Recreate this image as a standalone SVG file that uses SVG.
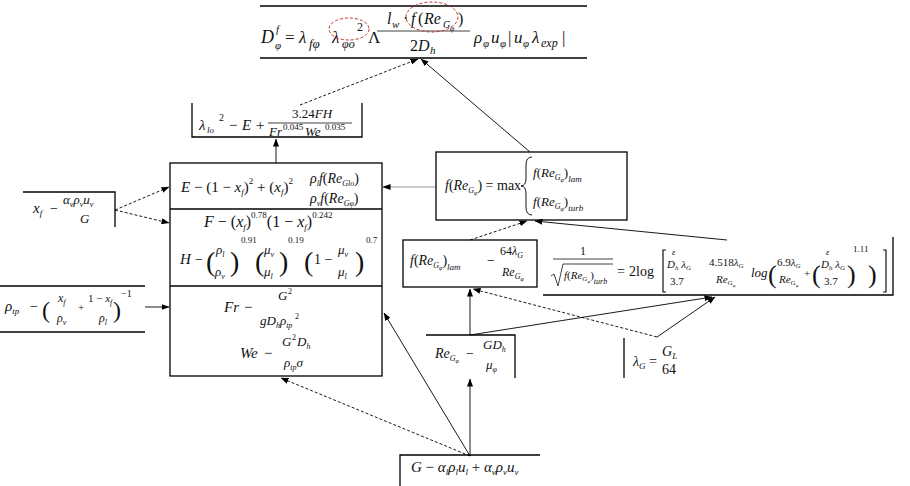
<svg xmlns="http://www.w3.org/2000/svg" width="910" height="486" viewBox="0 0 910 486">
<style>
.t{font-family:"Liberation Serif","DejaVu Serif",serif;font-style:italic;fill:#111}
.n{font-style:normal}
.s{font-size:9px}
.sup{font-size:9px;font-style:normal}
.big{font-style:normal}
.b{stroke:#000;stroke-width:1.3;fill:none}
.bar{stroke:#111;stroke-width:0.8;fill:none}
.c{stroke:#000;stroke-width:0.9;fill:none;marker-end:url(#ah)}
.d{stroke-dasharray:3 2}
.g{stroke:#8a8a8a}
.red{stroke:#c0302a;stroke-width:1;fill:none;stroke-dasharray:3 2}
</style>
<defs>
<marker id="ah" markerWidth="8" markerHeight="6" refX="7.5" refY="3" orient="auto" markerUnits="userSpaceOnUse"><path d="M0,0 L8,3 L0,6 z" fill="#000"/></marker>
</defs>
<rect width="910" height="486" fill="#fff"/>

<g id="connectors">
<line class="c d" x1="300" y1="105" x2="418" y2="59"/>
<line class="c" x1="530" y1="152" x2="421" y2="59"/>
<line class="c" x1="276" y1="163" x2="276" y2="139"/>
<line class="c d" x1="115" y1="210" x2="169" y2="187"/>
<line class="c d" x1="115" y1="210" x2="169" y2="223"/>
<line class="c g" x1="436" y1="187" x2="383" y2="187"/>
<line class="c" x1="145" y1="307" x2="169" y2="307"/>
<line class="c d" x1="470" y1="240" x2="527" y2="221"/>
<line class="c" x1="727" y1="240" x2="535" y2="221"/>
<line class="c" x1="470" y1="335" x2="470" y2="289"/>
<line class="c" x1="470" y1="335" x2="712" y2="297"/>
<line class="c d" x1="657" y1="337" x2="473" y2="289"/>
<line class="c" x1="657" y1="337" x2="715" y2="297"/>
<line class="c d" x1="470" y1="456" x2="281" y2="378"/>
<line class="c" x1="470" y1="456" x2="384" y2="313"/>
<line class="c" x1="470" y1="456" x2="470" y2="379"/>
</g>

<g font-size="14">
<g id="drag">
<line class="b" x1="260" y1="6" x2="587" y2="6"/>
<line class="b" x1="260" y1="58" x2="587" y2="58"/>
<text class="t" x="261" y="43" font-size="18">D</text>
<text class="t" x="276" y="33" font-size="11">f</text>
<text class="t" x="275" y="49" font-size="11">φ</text>
<text class="t n" x="285" y="43" font-size="17">=</text>
<text class="t" x="299" y="43" font-size="17">λ</text>
<text class="t" x="309" y="48" font-size="13">fφ</text>
<text class="t" x="332" y="43" font-size="17">λ</text>
<text class="t" x="342" y="48" font-size="12">φo</text>
<text class="t n" x="357" y="31" font-size="12">2</text>
<text class="t n" x="368" y="43" font-size="17">Λ</text>
<text class="t" x="387" y="24" font-size="16">l</text>
<text class="t" x="392" y="28" font-size="11">w</text>
<text class="t n" x="403" y="24" font-size="16">·</text>
<text class="t" x="411" y="24" font-size="16">f</text>
<text class="t n" x="418" y="24" font-size="16">(</text>
<text class="t" x="424" y="24" font-size="16">Re</text>
<text class="t" x="443" y="28" font-size="10">G</text>
<text class="t" x="450" y="31" font-size="8">φ</text>
<text class="t n" x="458" y="24" font-size="16">)</text>
<line class="bar" x1="377" y1="31" x2="470" y2="31"/>
<text class="t n" x="410" y="51" font-size="16">2</text>
<text class="t" x="418" y="51" font-size="16">D</text>
<text class="t" x="430" y="54" font-size="11">h</text>
<text class="t" x="474" y="43" font-size="17">ρ</text>
<text class="t" x="483" y="47" font-size="11">φ</text>
<text class="t" x="491" y="43" font-size="17">u</text>
<text class="t" x="500" y="47" font-size="11">φ</text>
<text class="t n" x="508" y="43" font-size="17">|</text>
<text class="t" x="514" y="43" font-size="17">u</text>
<text class="t" x="523" y="47" font-size="11">φ</text>
<text class="t" x="532" y="43" font-size="17">λ</text>
<text class="t" x="541" y="47" font-size="12">exp</text>
<text class="t n" x="562" y="43" font-size="17">|</text>
<ellipse class="red" cx="349" cy="29" rx="20" ry="11"/>
<ellipse class="red" cx="432" cy="17" rx="26" ry="15"/>
</g>

<g id="lambda-lo">
<path class="b" d="M192,103 V137 H362 V103"/>
<text class="t" x="199" y="130" font-size="15">λ</text>
<text class="t" x="207" y="133" font-size="9">lo</text>
<text class="t n" x="219" y="121" font-size="10">2</text>
<text class="t n" x="229" y="130" font-size="15">−</text>
<text class="t" x="242" y="130" font-size="15">E</text>
<text class="t n" x="256" y="130" font-size="15">+</text>
<text class="t" x="292" y="118" font-size="13"><tspan class="n">3.24</tspan>FH</text>
<line class="bar" x1="268" y1="123" x2="352" y2="123"/>
<text class="t" x="269" y="136" font-size="13">Fr</text>
<text class="t n" x="283" y="130" font-size="9">0.045</text>
<text class="t" x="305" y="136" font-size="13">We</text>
<text class="t n" x="325" y="130" font-size="9">0.035</text>
</g>

<g id="xf">
<path class="b" d="M23,192 H115 V227"/>
<text class="t" x="33" y="213" font-size="15">x<tspan class="s" dy="3">f</tspan></text>
<text class="t n" x="50" y="213">−</text>
<text class="t" x="63" y="204" font-size="13">α<tspan font-size="8" dy="3">v</tspan><tspan dy="-3">ρ</tspan><tspan font-size="8" dy="3">v</tspan><tspan dy="-3">u</tspan><tspan font-size="8" dy="3">v</tspan></text>
<text class="t" x="80" y="223" font-size="13">G</text>
</g>

<g id="rho-tp">
<line class="b" x1="0" y1="286" x2="145" y2="286"/>
<line class="b" x1="0" y1="332" x2="145" y2="332"/>
<text class="t" x="5" y="311" font-size="15">ρ<tspan class="s" dy="3">tp</tspan></text>
<text class="t n" x="30" y="311">−</text>
<text class="t big" x="42" y="318" font-size="24">(</text>
<text class="t" x="58" y="302" font-size="12">x<tspan font-size="8" dy="3">f</tspan></text>
<text class="t" x="57" y="322" font-size="12">ρ<tspan font-size="8" dy="3">v</tspan></text>
<text class="t n" x="78" y="311" font-size="11">+</text>
<text class="t" x="88" y="302" font-size="11"><tspan class="n">1 − </tspan>x<tspan font-size="8" dy="3">f</tspan></text>
<text class="t" x="99" y="322" font-size="12">ρ<tspan font-size="8" dy="3">l</tspan></text>
<text class="t big" x="113" y="318" font-size="24">)</text>
<text class="t n" x="121" y="297" font-size="10">−1</text>
</g>

<g id="main">
<rect class="b" x="170" y="163" width="212" height="213"/>
<line class="b" x1="170" y1="209" x2="382" y2="209"/>
<line class="b" x1="170" y1="286" x2="382" y2="286"/>
<text class="t" x="181" y="192" font-size="15">E<tspan class="n"> − (1 − </tspan>x<tspan class="s" dy="3">f</tspan><tspan class="n" dy="-3">)</tspan><tspan class="sup" dy="-8">2</tspan><tspan class="n" dy="8"> + (</tspan>x<tspan class="s" dy="3">f</tspan><tspan class="n" dy="-3">)</tspan><tspan class="sup" dy="-8">2</tspan></text>
<text class="t" x="310" y="183" font-size="14">ρ<tspan font-size="8" dy="3">l</tspan><tspan dy="-3">f</tspan><tspan class="n">(</tspan>Re<tspan font-size="8" dy="3">Glo</tspan><tspan class="n" dy="-3">)</tspan></text>
<text class="t" x="310" y="203" font-size="14">ρ<tspan font-size="8" dy="3">v</tspan><tspan dy="-3">f</tspan><tspan class="n">(</tspan>Re<tspan font-size="8" dy="3">Gφ</tspan><tspan class="n" dy="-3">)</tspan></text>

<text class="t" x="204" y="227" font-size="16">F<tspan class="n"> − (</tspan>x<tspan class="s" dy="3">f</tspan><tspan class="n" dy="-3">)</tspan><tspan class="sup" dy="-9">0.78</tspan><tspan class="n" dy="9">(1 − </tspan>x<tspan class="s" dy="3">f</tspan><tspan class="n" dy="-3">)</tspan><tspan class="sup" dy="-9">0.242</tspan></text>

<text class="t" x="180" y="264" font-size="15">H</text>
<text class="t n" x="195" y="264">−</text>
<text class="t big" x="206" y="271" font-size="28">(</text>
<text class="t" x="216" y="254" font-size="13">ρ<tspan font-size="8" dy="3">l</tspan></text>
<text class="t" x="215" y="276" font-size="13">ρ<tspan font-size="8" dy="3">v</tspan></text>
<text class="t big" x="230" y="271" font-size="28">)</text>
<text class="t n" x="241" y="243" font-size="9">0.91</text>
<text class="t big" x="255" y="271" font-size="28">(</text>
<text class="t" x="264" y="254" font-size="13">μ<tspan font-size="8" dy="3">v</tspan></text>
<text class="t" x="264" y="276" font-size="13">μ<tspan font-size="8" dy="3">l</tspan></text>
<text class="t big" x="279" y="271" font-size="28">)</text>
<text class="t n" x="288" y="243" font-size="9">0.19</text>
<text class="t big" x="304" y="271" font-size="28">(</text>
<text class="t n" x="314" y="264">1 −</text>
<text class="t" x="338" y="254" font-size="13">μ<tspan font-size="8" dy="3">v</tspan></text>
<text class="t" x="338" y="276" font-size="13">μ<tspan font-size="8" dy="3">l</tspan></text>
<text class="t big" x="355" y="271" font-size="28">)</text>
<text class="t n" x="366" y="243" font-size="9">0.7</text>

<text class="t" x="224" y="312" font-size="15">Fr</text>
<text class="t n" x="244" y="312" font-size="15">−</text>
<text class="t" x="278" y="300" font-size="13">G</text>
<text class="t n" x="288" y="294" font-size="8">2</text>
<text class="t" x="260" y="325" font-size="13">gD<tspan font-size="8" dy="3">h</tspan><tspan dy="-3">ρ</tspan><tspan font-size="8" dy="3">tp</tspan></text>
<text class="t n" x="295" y="319" font-size="8">2</text>
<text class="t" x="240" y="358" font-size="15">We</text>
<text class="t n" x="264" y="358" font-size="15">−</text>
<text class="t" x="282" y="346" font-size="13">G</text>
<text class="t n" x="292" y="340" font-size="8">2</text>
<text class="t" x="297" y="346" font-size="13">D<tspan font-size="8" dy="3">h</tspan></text>
<text class="t" x="284" y="367" font-size="13">ρ<tspan font-size="8" dy="3">tp</tspan><tspan dy="-3">σ</tspan></text>
</g>

<g id="f-re">
<rect class="b" x="436" y="152" width="191" height="68"/>
<text class="t" x="445" y="190">f<tspan class="n">(</tspan>Re<tspan font-size="8" dy="3">G</tspan><tspan font-size="6" dy="2">φ</tspan><tspan class="n" dy="-5">) = max</tspan></text>
<path d="M532,157 q-6,0 -6,8 v13 q0,8 -5,8 q5,0 5,8 v13 q0,8 6,8" fill="none" stroke="#111" stroke-width="1"/>
<text class="t" x="533" y="177" font-size="13">f<tspan class="n">(</tspan>Re<tspan font-size="8" dy="3">G</tspan><tspan font-size="6" dy="2">φ</tspan><tspan class="n" dy="-5">)</tspan><tspan font-size="9" dy="5">lam</tspan></text>
<text class="t" x="533" y="206" font-size="13">f<tspan class="n">(</tspan>Re<tspan font-size="8" dy="3">G</tspan><tspan font-size="6" dy="2">φ</tspan><tspan class="n" dy="-5">)</tspan><tspan font-size="9" dy="5">turb</tspan></text>
</g>

<g id="f-lam">
<rect class="b" x="403" y="240" width="134" height="47"/>
<text class="t" x="410" y="265">f<tspan class="n">(</tspan>Re<tspan font-size="8" dy="3">G</tspan><tspan font-size="6" dy="2">φ</tspan><tspan class="n" dy="-5">)</tspan><tspan font-size="9" dy="5">lam</tspan></text>
<text class="t n" x="487" y="265">−</text>
<text class="t" x="500" y="255" font-size="12"><tspan class="n">64</tspan>λ<tspan font-size="8" dy="3">G</tspan></text>
<text class="t" x="502" y="276" font-size="12">Re<tspan font-size="8" dy="3">G</tspan><tspan font-size="6" dy="2">φ</tspan></text>
</g>

<g id="f-turb">
<path class="b" d="M543,295 H893 V237"/>
<text class="t n" x="580" y="255" font-size="12">1</text>
<line class="bar" x1="553" y1="259" x2="613" y2="259"/>
<path d="M551,276 l3,-2 l4,12 l5,-22 H613" fill="none" stroke="#111" stroke-width="0.8"/>
<text class="t" x="564" y="279" font-size="11">f<tspan class="n">(</tspan>Re<tspan font-size="7" dy="2">G</tspan><tspan font-size="5" dy="2">φ</tspan><tspan class="n" dy="-4">)</tspan><tspan font-size="8" dy="5">turb</tspan></text>
<text class="t n" x="617" y="276" font-size="14">=</text>
<text class="t n" x="629" y="276" font-size="14">2log</text>
<path d="M666,250 h-3 v42 h3" fill="none" stroke="#111" stroke-width="1.2"/>
<text class="t" x="672" y="255" font-size="9">ε</text>
<text class="t" x="667" y="268" font-size="11">D<tspan font-size="7" dy="2">h</tspan><tspan dy="-2"> λ</tspan><tspan font-size="7" dy="2">G</tspan></text>
<text class="t n" x="670" y="285" font-size="11">3.7</text>
<text class="t" x="709" y="266" font-size="11"><tspan class="n">4.518</tspan>λ<tspan font-size="7" dy="2">G</tspan></text>
<text class="t" x="716" y="283" font-size="11">Re<tspan font-size="7" dy="2">G</tspan><tspan font-size="5" dy="2">φ</tspan></text>
<text class="t" x="751" y="277" font-size="13">log</text>
<text class="t big" x="768" y="283" font-size="26">(</text>
<text class="t" x="777" y="266" font-size="11"><tspan class="n">6.9</tspan>λ<tspan font-size="7" dy="2">G</tspan></text>
<text class="t" x="779" y="283" font-size="11">Re<tspan font-size="7" dy="2">G</tspan><tspan font-size="5" dy="2">φ</tspan></text>
<text class="t n" x="804" y="277" font-size="11">+</text>
<text class="t big" x="812" y="283" font-size="26">(</text>
<text class="t" x="826" y="255" font-size="9">ε</text>
<text class="t" x="821" y="268" font-size="11">D<tspan font-size="7" dy="2">h</tspan><tspan dy="-2"> λ</tspan><tspan font-size="7" dy="2">G</tspan></text>
<text class="t n" x="824" y="285" font-size="11">3.7</text>
<text class="t big" x="847" y="283" font-size="26">)</text>
<text class="t n" x="853" y="252" font-size="9">1.11</text>
<text class="t big" x="868" y="283" font-size="26">)</text>
<path d="M883,250 h3 v42 h-3" fill="none" stroke="#111" stroke-width="1.2"/>
</g>

<g id="re">
<path class="b" d="M426,335 H515 V378"/>
<text class="t" x="435" y="358">Re<tspan font-size="8" dy="3">G</tspan><tspan font-size="6" dy="2">φ</tspan></text>
<text class="t n" x="466" y="358">−</text>
<text class="t" x="483" y="349" font-size="13">GD<tspan font-size="8" dy="3">h</tspan></text>
<text class="t" x="486" y="369" font-size="13">μ<tspan font-size="8" dy="3">φ</tspan></text>
</g>

<g id="lambda-g">
<line class="b" x1="624" y1="338" x2="624" y2="378"/>
<text class="t" x="633" y="366">λ<tspan font-size="9" dy="3">G</tspan></text>
<text class="t n" x="649" y="366">=</text>
<text class="t" x="662" y="356">G<tspan font-size="9" dy="3">L</tspan></text>
<text class="t n" x="662" y="374">64</text>
</g>

<g id="g-mass">
<path class="b" d="M400,486 V455 H540"/>
<text class="t" x="411" y="472" font-size="15">G<tspan class="n"> − </tspan>α<tspan class="s" dy="3">l</tspan><tspan dy="-3">ρ</tspan><tspan class="s" dy="3">l</tspan><tspan dy="-3">u</tspan><tspan class="s" dy="3">l</tspan><tspan class="n" dy="-3"> + </tspan>α<tspan class="s" dy="3">v</tspan><tspan dy="-3">ρ</tspan><tspan class="s" dy="3">v</tspan><tspan dy="-3">u</tspan><tspan class="s" dy="3">v</tspan></text>
</g>
</g>
</svg>
